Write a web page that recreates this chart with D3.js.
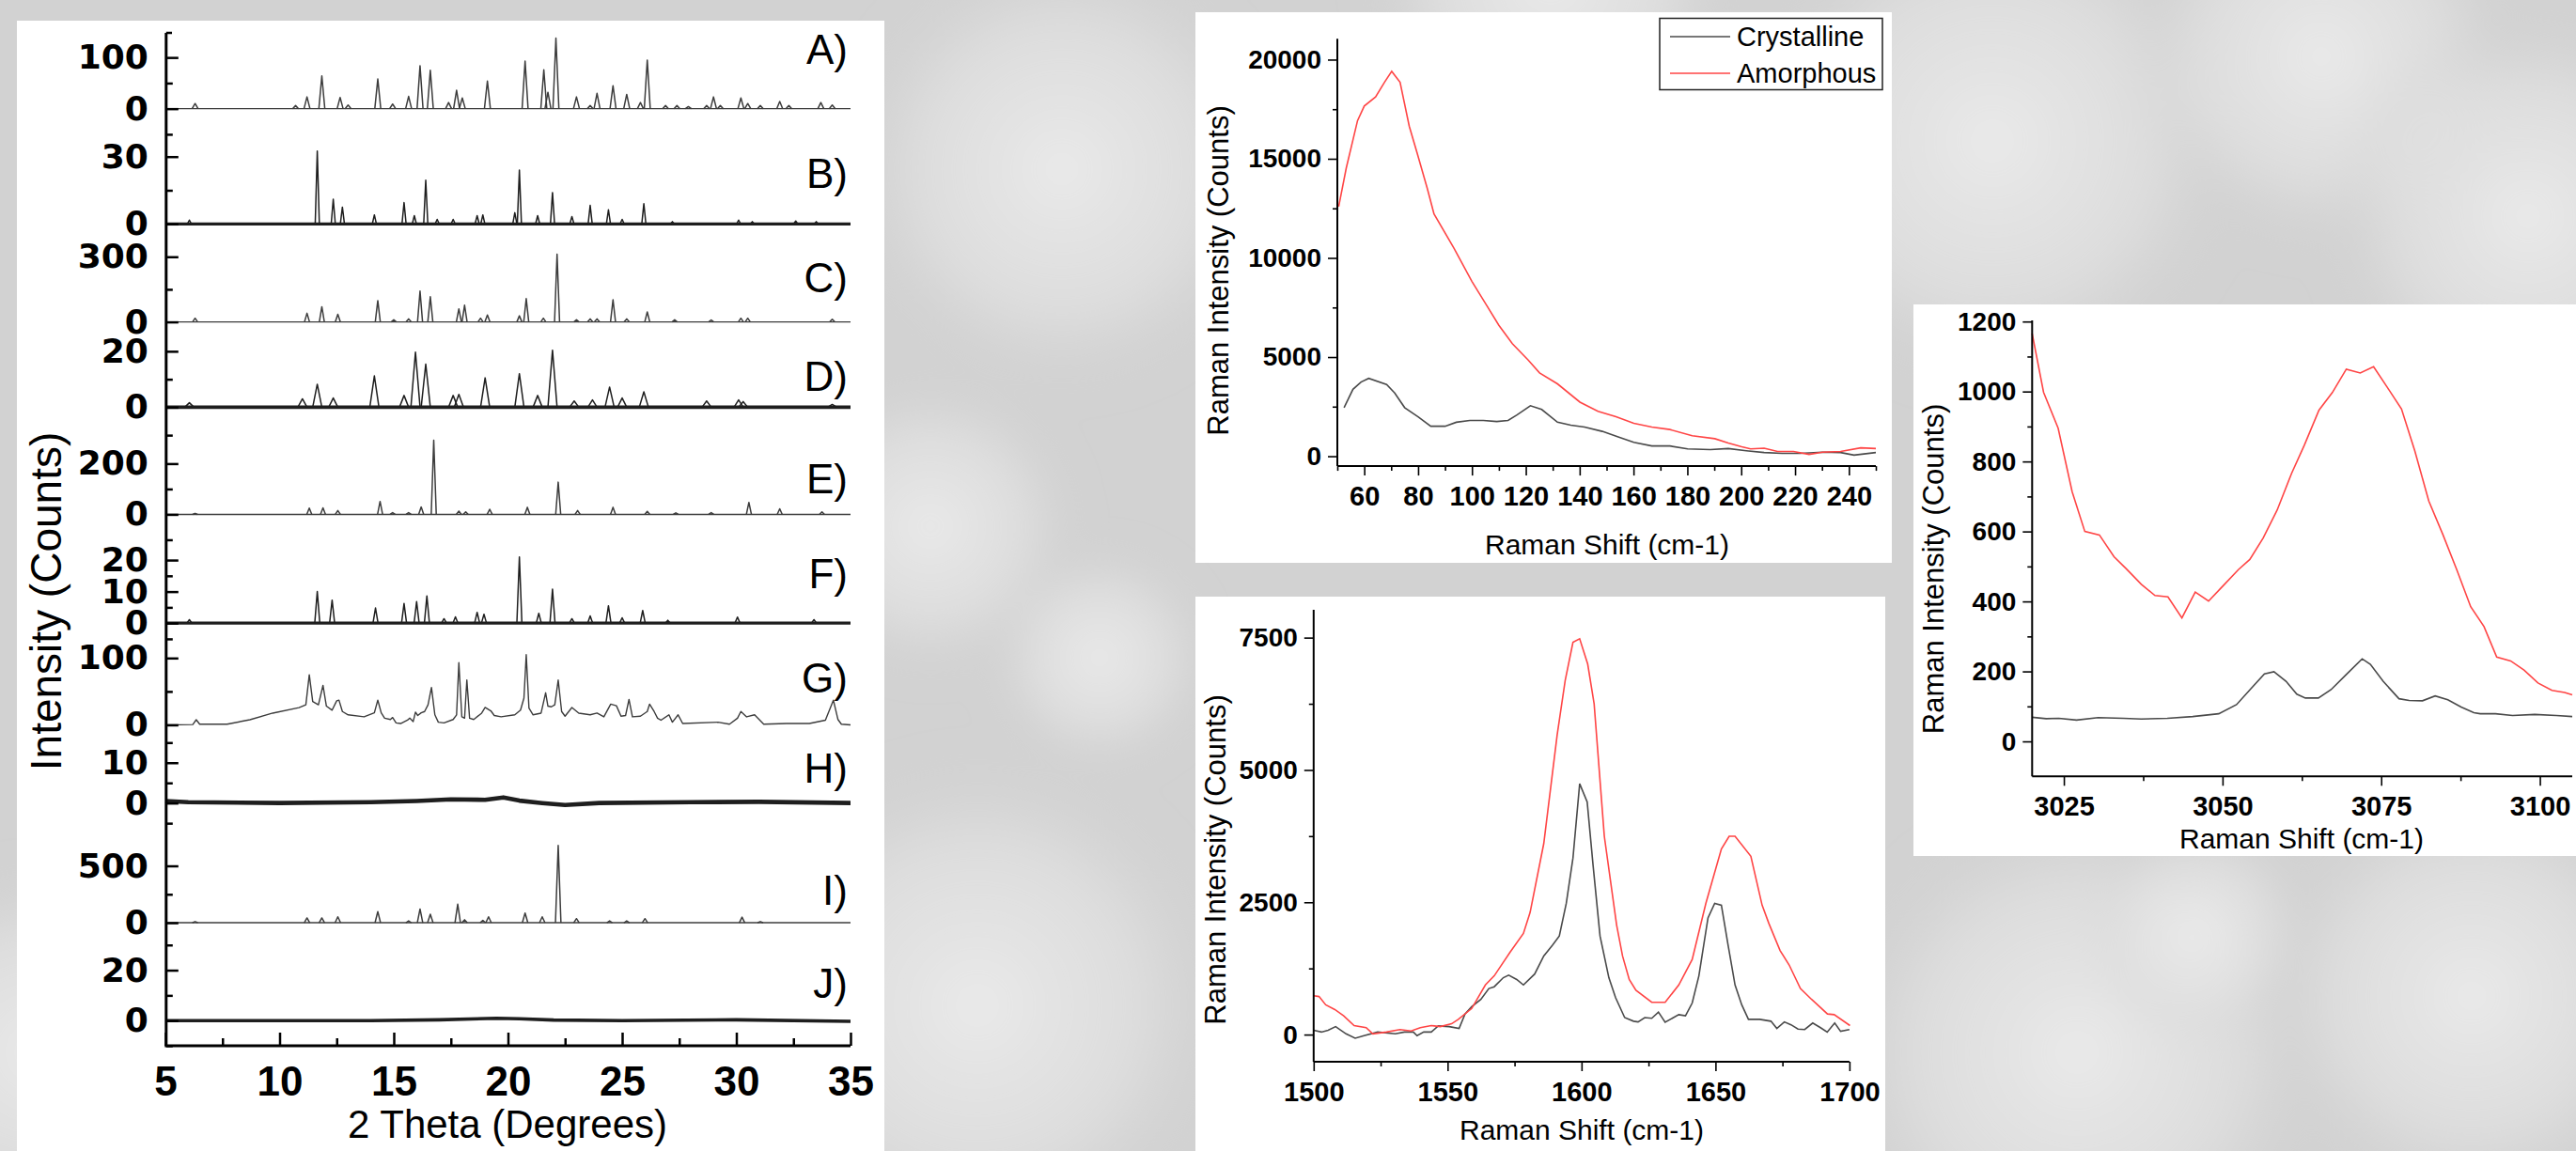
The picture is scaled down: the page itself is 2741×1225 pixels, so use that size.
<!DOCTYPE html>
<html>
<head>
<meta charset="utf-8">
<title>XRD patterns and Raman spectra</title>
<script src="https://cdn.jsdelivr.net/npm/d3@7"></script>
<style>
  body { margin: 0; background: #d6d6d6; }
  svg { display: block; }
</style>
</head>
<body>
<svg id="fig" width="2741" height="1225"></svg>
<script>
// ---------- XRD patterns (2 theta in degrees, intensity in counts) ----------
var xrdLabels = ['A)', 'B)', 'C)', 'D)', 'E)', 'F)', 'G)', 'H)', 'I)', 'J)'];
var xrdDomains = [[-63, 148], [-7, 37], [-58, 379], [-15, 26], [-139, 257],
                  [-8, 23.3], [-12, 114.5], [-9.4, 17.4], [-107, 719], [-10, 34]];
var xrdTicks = [[0, 100], [0, 30], [0, 300], [0, 20], [0, 200],
                [0, 10, 20], [0, 100], [0, 10], [0, 500], [0, 20]];
var xrdMinorStep = [50, 15, 150, 10, 100, 5, 50, 5, 250, 10];
var thetaTicks = [5, 10, 15, 20, 25, 30, 35];

// peaks as [2 theta, height]
var peaksA = [[6.3,10],[10.7,6],[11.2,23],[11.85,64],[12.65,22],[13.0,7],[14.3,58],[14.95,9],
  [15.65,24],[16.15,84],[16.6,75],[17.4,12],[17.75,36],[18.0,21],[19.1,54],[20.75,93],[21.57,76],
  [21.75,32],[22.1,138],[23.0,23],[23.6,6],[23.9,30],[24.6,45],[25.2,28],[25.8,12],[26.1,95],
  [26.9,6],[27.4,6],[27.9,4],[28.7,6],[29.0,23],[29.3,6],[30.2,21],[30.5,10],[31.05,6],[31.9,14],
  [32.3,6],[33.7,12],[34.2,7]];
var peaksB = [[6.05,1.7],[11.65,32.5],[12.35,11],[12.75,7.5],[14.15,4],[15.45,9.5],[15.9,3.7],
  [16.4,19.5],[16.9,2],[17.6,2],[18.65,3.7],[18.9,4],[20.3,5],[20.5,24],[21.3,3.7],[21.95,14],
  [22.8,3.3],[23.6,8.3],[24.4,6.3],[25.0,2],[25.95,9],[27.2,1],[30.1,1.7],[30.7,1],[32.6,1.3],[33.5,1]];
var peaksC = [[6.3,17],[11.2,40],[11.85,70],[12.55,35],[14.3,98],[15.0,10],[15.65,14],[16.15,142],
  [16.6,116],[17.85,60],[18.1,77],[18.8,17],[19.1,32],[20.5,28],[20.8,107],[21.55,17],[22.15,312],
  [23.0,10],[23.6,14],[23.9,14],[24.6,102],[25.2,14],[26.1,46],[27.3,10],[28.9,9],[30.2,17],
  [30.5,17],[34.2,12]];
var peaksD = [[6.05,1.6],[11.0,3],[11.65,8.2],[12.35,3.3],[14.15,11.2],[15.45,4.2],[15.95,19.7],
  [16.4,15.4],[17.6,4.2],[17.85,4.6],[19.0,10.5],[20.5,12],[21.3,4.2],[21.95,20.4],[22.9,2.2],
  [23.7,2.6],[24.45,7.2],[25.0,3.3],[25.95,5.5],[28.7,2.2],[30.1,2.6],[30.3,2],[34.2,1]];
var peaksE = [[6.3,4],[11.3,25],[11.9,26],[12.55,15],[14.4,51],[14.95,7],[15.65,7],[16.2,29],
  [16.75,292],[17.85,13],[18.15,10],[19.2,20],[20.85,28],[22.2,127],[23.05,15],[24.6,28],[26.1,12],
  [27.35,6],[28.9,7],[30.55,47],[31.9,22],[33.75,10]];
var peaksF = [[6.05,1.1],[11.65,10],[12.3,7.3],[14.2,4.8],[15.45,6.2],[16.0,6.8],[16.45,8.6],
  [17.2,1.4],[17.7,2],[18.65,3.4],[18.95,2.8],[20.5,21],[21.35,3.1],[21.95,10.8],[22.8,1.4],
  [23.6,2.3],[24.4,5.5],[25.0,1.7],[25.9,4],[27.0,0.9],[30.05,1.9],[33.4,1.1]];
var peaksI = [[6.3,10],[11.2,42],[11.85,42],[12.55,52],[14.3,98],[15.65,16],[16.15,121],[16.6,75],
  [17.8,163],[18.1,26],[18.9,20],[19.15,52],[20.75,85],[21.5,52],[22.2,680],[23.0,36],[24.45,16],
  [25.2,16],[26.0,36],[30.25,49],[31.05,10]];

// full traces as [2 theta, intensity]
var traceG = [[5,0],[6.2,0.5],[6.35,7.7],[6.5,1],[7.7,1],[8.7,7.7],[9.7,17.6],[10.85,25.8],[11.15,30],
  [11.3,75],[11.45,35],[11.7,30],[11.9,59],[12.05,28],[12.3,22],[12.5,36],[12.6,37],[12.75,20],
  [13.0,15],[13.7,12],[14.15,18],[14.3,37],[14.45,18],[14.6,10],[14.85,8],[14.95,11],[15.1,3],
  [15.3,2],[15.6,7],[15.7,10],[15.85,5],[15.95,19],[16.05,14],[16.2,18],[16.35,20],[16.5,30],
  [16.65,56],[16.8,15],[16.95,4],[17.2,3],[17.6,8],[17.75,15],[17.85,93],[17.98,12],[18.1,10],
  [18.2,67],[18.32,10],[18.5,8],[18.85,17.6],[19.0,26],[19.25,21],[19.4,14],[19.7,12],[20.3,15],
  [20.55,22],[20.7,40],[20.8,105],[20.92,25],[21.1,15],[21.45,17.6],[21.65,48],[21.75,28],[21.9,27],
  [22.05,30],[22.2,67],[22.35,20],[22.5,13],[22.8,26],[23.1,17.6],[23.6,15],[23.9,17.6],[24.2,12],
  [24.5,31],[24.75,28.6],[24.95,13],[25.15,14],[25.3,38],[25.45,12],[25.8,13],[26.1,20],[26.2,31],
  [26.4,20],[26.55,10],[26.7,7],[27.05,15],[27.2,4],[27.45,15],[27.65,2],[29.2,4],[29.7,1],
  [30.05,10],[30.2,20],[30.45,12],[30.8,15],[31.2,1],[32.2,2],[33.2,2],[33.9,7],[34.25,37],
  [34.45,8],[34.6,1],[35,0]];
var traceH = [[5,0.5],[6,0.2],[10,0],[14,0.2],[16,0.5],[17.5,0.9],[19,0.8],[19.8,1.4],[20.5,0.6],
  [21.5,0],[22.5,-0.5],[24,0],[28,0.2],[31,0.3],[35,0]];
var traceJ = [[5,0],[14,0],[17,0.3],[19.5,0.9],[20.5,0.7],[22,0.2],[25,0],[30,0.3],[35,-0.3]];

// ---------- Raman spectra, [shift (cm-1), intensity (counts)] ----------
var lowCryst = [[52.5,2452],[55.8,3373],[58.8,3742],[61.65,3926],[68.3,3613],[71.3,3189],[75,2452],
  [80,1991],[84.7,1512],[90,1512],[94.2,1714],[99.2,1806],[104.2,1806],[109.2,1751],[113.4,1806],
  [116.7,2083],[121.7,2544],[125.9,2359],[131.75,1714],[136.7,1567],[141.8,1475],[148.4,1253],
  [154.3,977],[160.1,700],[166.8,516],[173.5,516],[180.1,369],[188.5,332],[195.2,387],[201.9,276],
  [208.5,184],[215.2,147],[221.9,147],[230.2,203],[236.9,184],[241.9,55],[250,184]];
var lowAmor = [[50.5,12590],[53.3,14525],[57.5,16922],[60,17659],[64.2,18120],[67.5,18857],
  [70.2,19410],[73.3,18857],[76.7,16645],[79.7,15263],[83.4,13511],[85.9,12221],[93.4,10470],
  [100,8811],[105,7705],[110,6599],[115,5677],[120.9,4848],[125.1,4203],[131.75,3650],[140.1,2728],
  [146.8,2267],[153.5,1991],[160.1,1659],[166.8,1475],[173.5,1346],[181.8,1032],[190.2,885],
  [195.2,664],[200.2,479],[203.5,369],[208.5,406],[213.5,240],[219.4,240],[225.2,92],[230.2,203],
  [236.9,240],[244.4,424],[250,387]];
var midCryst = [[1500,82],[1502.9,48],[1505.4,82],[1508.2,151],[1512.1,14],[1515.5,-68],[1518.8,-21],
  [1523.9,48],[1530.5,14],[1533.9,48],[1537.2,48],[1538.6,-21],[1541.1,48],[1543.9,48],[1546.5,164],
  [1550.6,151],[1554.3,116],[1556.5,390],[1559,527],[1562.4,664],[1565.4,870],[1567.4,904],
  [1570.8,1075],[1572.8,1123],[1575.8,1041],[1578.3,938],[1582.5,1144],[1585.9,1486],[1589.2,1692],
  [1591.7,1863],[1594.3,2479],[1596.8,3336],[1599.3,4740],[1602.1,4397],[1604.3,3199],[1606.9,1863],
  [1610.2,1075],[1612.7,699],[1616.1,322],[1619.4,253],[1621.1,240],[1623.6,322],[1626.2,308],
  [1628.7,425],[1631.2,233],[1636.3,377],[1638.8,356],[1641.3,596],[1643.8,1110],[1647.2,2205],
  [1649.7,2479],[1652.2,2445],[1654.7,1692],[1657.3,938],[1659.8,562],[1662.3,288],[1666.5,288],
  [1670.7,253],[1672.9,116],[1675.7,240],[1678.2,185],[1680.8,103],[1683.3,96],[1686.3,219],
  [1689.2,130],[1691.7,48],[1694.5,219],[1696.7,62],[1700,96]];
var midAmor = [[1500,733],[1502,719],[1504.5,562],[1507.9,473],[1511.2,356],[1515.1,171],[1519.6,130],
  [1522.1,14],[1527.2,48],[1532.2,96],[1536.4,68],[1539.8,130],[1543.9,171],[1547.3,151],[1551.5,205],
  [1554,288],[1559,493],[1564.1,938],[1567.4,1110],[1573.3,1555],[1578.3,1911],[1580.8,2308],
  [1585.9,3610],[1590.9,5664],[1593.9,6692],[1596.8,7411],[1599.3,7479],[1602.3,7000],[1604.7,6247],
  [1608.5,3747],[1613.1,2068],[1615.3,1486],[1617.8,1041],[1620.3,836],[1626.2,610],[1631.2,610],
  [1636.3,938],[1641.3,1418],[1646.4,2479],[1652.2,3507],[1655.1,3747],[1657.3,3747],[1663.2,3370],
  [1667.4,2445],[1669.9,2103],[1674.1,1589],[1677.5,1315],[1681.7,870],[1685.9,664],[1691.8,390],
  [1694.3,377],[1700.2,171]];
var highCryst = [[3020,69],[3022.2,65],[3024.2,66],[3027,61],[3030.4,68],[3034.4,66],[3037.2,64],
  [3041.3,66],[3045.3,71],[3049.4,79],[3052.2,105],[3054.5,151],[3056.6,193],[3058.1,199],[3060,172],
  [3061.7,135],[3063.05,124],[3065.1,124],[3067.1,148],[3069.5,191],[3072,236],[3073.3,220],
  [3075.3,172],[3077.8,122],[3079.4,117],[3081.5,116],[3083.5,130],[3085.5,119],[3087.6,98],
  [3089.6,82],[3090.6,79],[3093,79],[3095.7,74],[3099.2,77],[3102.6,74],[3105.1,71]];
var highAmor = [[3020,1166],[3021.8,998],[3024.1,895],[3026.3,714],[3028.3,600],[3030.6,590],
  [3032.9,528],[3034.8,494],[3037.2,449],[3039.35,417],[3041.4,413],[3043.6,353],[3045.7,427],
  [3047.8,401],[3050.1,445],[3052.5,491],[3054.3,520],[3056.4,581],[3058.6,661],[3060.9,767],
  [3062.9,847],[3065.2,947],[3067.3,997],[3069.5,1064],[3071.7,1053],[3073.8,1071],[3076,1011],
  [3078.2,950],[3080.3,830],[3082.5,687],[3084.7,592],[3086.9,491],[3089.1,385],[3091.2,328],
  [3093.2,241],[3095.4,230],[3097.5,204],[3099.7,167],[3101.9,146],[3103.9,140],[3105.1,133]];
var seriesNames = ['Crystalline', 'Amorphous'];

// ---------- drawing ----------
var svg = d3.select('#fig');
var sans = 'Liberation Sans, Arial, sans-serif';
var redLine = '#ff4545', grayLine = '#4a4a4a';

// photographic backdrop (soft blurred spheres)
var defs = svg.append('defs');
var glow = defs.append('radialGradient').attr('id', 'glow');
glow.append('stop').attr('offset', '0%').attr('stop-color', '#ededed').attr('stop-opacity', 0.9);
glow.append('stop').attr('offset', '65%').attr('stop-color', '#e2e2e2').attr('stop-opacity', 0.65);
glow.append('stop').attr('offset', '100%').attr('stop-color', '#d0d0d0').attr('stop-opacity', 0);
defs.append('filter').attr('id', 'soft').append('feGaussianBlur').attr('stdDeviation', 18);
svg.append('rect').attr('width', 2741).attr('height', 1225).attr('fill', '#d2d2d2');
var blobs = svg.append('g').attr('filter', 'url(#soft)');
[[1130,180,240],[1040,1070,270],[990,560,160],[2120,150,270],[2470,60,210],[2690,230,220],
 [2210,1120,270],[2630,1060,230],[1170,700,120],[40,1120,200],[1700,1230,160],[2340,990,120],
 [1650,-20,200]].forEach(function(b) {
  blobs.append('circle').attr('cx', b[0]).attr('cy', b[1]).attr('r', b[2]).attr('fill', 'url(#glow)');
});

// white panels
[[18, 22, 923, 1203], [1272, 13, 741, 586], [1272, 635, 734, 590], [2036, 324, 705, 587]]
  .forEach(function(p) {
    svg.append('rect').attr('x', p[0]).attr('y', p[1]).attr('width', p[2]).attr('height', p[3])
      .attr('fill', '#fff');
  });

function cleanAxis(sel, w) {
  sel.select('.domain').remove();
  sel.selectAll('line').attr('stroke', '#000').attr('stroke-width', w);
  sel.selectAll('text').attr('fill', '#000');
}

// ---- stacked XRD panels ----
var xrd = svg.append('g');
var theta = d3.scaleLinear().domain([5, 35]).range([176, 905]);
var bands = [35, 150, 255, 356, 478, 585, 690, 780, 895, 995, 1113];
var labelMid = [52, 184, 295, 400, 509, 610, 721, 817, 947, 1046];
var halfWidth = [0.13, 0.09, 0.11, 0.2, 0.11, 0.11, 0, 0, 0.12, 0];
var noiseWidth = [0, 3.2, 0, 3.6, 0, 3.2, 0, 4.6, 0, 3.6];
var xrdPeaks = [peaksA, peaksB, peaksC, peaksD, peaksE, peaksF, null, null, peaksI, null];
var xrdTraces = [null, null, null, null, null, null, traceG, traceH, null, traceJ];

xrdLabels.forEach(function(lab, i) {
  var dom = xrdDomains[i];
  var y = d3.scaleLinear().domain(dom).range([bands[i + 1], bands[i]]);
  var line = d3.line().x(function(d) { return theta(d[0]); }).y(function(d) { return y(d[1]); });
  var g = xrd.append('g');
  var ink = noiseWidth[i] ? '#1e1e1e' : '#3c3c3c';

  var base = xrdTraces[i] || [[5, 0], [35, 0]];
  g.append('path')
    .attr('d', line(base))
    .attr('fill', 'none')
    .attr('stroke', ink)
    .attr('stroke-width', noiseWidth[i] || 1.4)
    .attr('stroke-linejoin', 'round');

  (xrdPeaks[i] || []).forEach(function(p) {
    var w = halfWidth[i];
    g.append('path')
      .attr('d', line([[p[0] - w, 0], [p[0], p[1]], [p[0] + w, 0]]))
      .attr('fill', 'none')
      .attr('stroke', ink)
      .attr('stroke-width', 1.5)
      .attr('stroke-linejoin', 'round');
  });

  // ticks point inward
  var step = xrdMinorStep[i];
  var minor = d3.range(Math.ceil(dom[0] / step) * step, dom[1], step)
    .filter(function(v) { return xrdTicks[i].indexOf(v) < 0; });
  g.append('g')
    .attr('transform', 'translate(176.8,0)')
    .call(d3.axisLeft(y).tickValues(minor).tickSize(-7).tickFormat(''))
    .call(cleanAxis, 2.5);
  g.append('g')
    .attr('transform', 'translate(176.8,0)')
    .call(d3.axisLeft(y).tickValues(xrdTicks[i]).tickSize(-13).tickPadding(19))
    .call(cleanAxis, 2.5)
    .selectAll('text')
      .attr('font-family', 'DejaVu Sans, sans-serif')
      .attr('font-weight', 'bold')
      .attr('font-size', 36);

  g.append('text')
    .attr('x', 902)
    .attr('y', labelMid[i])
    .attr('dy', '0.36em')
    .attr('text-anchor', 'end')
    .attr('font-family', sans)
    .attr('font-size', 44)
    .text(lab);
});

// shared axes
xrd.append('line').attr('x1', 176.8).attr('x2', 176.8).attr('y1', 35).attr('y2', 1113)
  .attr('stroke', '#000').attr('stroke-width', 3);
xrd.append('line').attr('x1', 176.8).attr('x2', 183).attr('y1', 35).attr('y2', 35)
  .attr('stroke', '#000').attr('stroke-width', 2.5);
xrd.append('g')
  .attr('transform', 'translate(0,1113)')
  .call(d3.axisTop(theta).tickValues(d3.range(7.5, 35, 5)).tickSize(8).tickFormat(''))
  .call(cleanAxis, 2.5);
xrd.append('g')
  .attr('transform', 'translate(0,1113)')
  .call(d3.axisBottom(theta).tickValues(thetaTicks).tickSize(-14).tickPadding(22))
  .call(cleanAxis, 2.5)
  .selectAll('text')
    .attr('font-family', sans).attr('font-weight', 'bold').attr('font-size', 44);
xrd.append('line').attr('x1', 175.3).attr('x2', 905).attr('y1', 1113).attr('y2', 1113)
  .attr('stroke', '#000').attr('stroke-width', 3);

xrd.append('text')
  .attr('x', 540).attr('y', 1211)
  .attr('text-anchor', 'middle')
  .attr('font-family', sans).attr('font-size', 42)
  .text('2 Theta (Degrees)');
xrd.append('text')
  .attr('transform', 'translate(49,640) rotate(-90)')
  .attr('dy', '0.35em')
  .attr('text-anchor', 'middle')
  .attr('font-family', sans).attr('font-size', 46)
  .text('Intensity (Counts)');

// ---- Raman panels ----
function raman(cfg) {
  var g = svg.append('g');
  var x = d3.scaleLinear().domain(cfg.xDomain).range(cfg.xRange);
  var y = d3.scaleLinear().domain(cfg.yDomain).range(cfg.yRange);
  var line = d3.line().x(function(d) { return x(d[0]); }).y(function(d) { return y(d[1]); });

  g.append('path').datum(cfg.cryst).attr('d', line)
    .attr('fill', 'none').attr('stroke', grayLine).attr('stroke-width', 1.6);
  g.append('path').datum(cfg.amor).attr('d', line)
    .attr('fill', 'none').attr('stroke', redLine).attr('stroke-width', 1.6);

  var x0 = cfg.xRange[0], y0 = cfg.yRange[0];
  g.append('g').attr('transform', 'translate(' + x0 + ',0)')
    .call(d3.axisLeft(y).tickValues(cfg.yMinor).tickSize(5).tickFormat(''))
    .call(cleanAxis, 1.6);
  g.append('g').attr('transform', 'translate(' + x0 + ',0)')
    .call(d3.axisLeft(y).tickValues(cfg.yMajor).tickSize(10).tickPadding(7).tickFormat(d3.format('d')))
    .call(cleanAxis, 1.6)
    .selectAll('text')
      .attr('font-family', sans).attr('font-weight', 'bold').attr('font-size', 28);
  g.append('g').attr('transform', 'translate(0,' + y0 + ')')
    .call(d3.axisBottom(x).tickValues(cfg.xMinor).tickSize(5).tickFormat(''))
    .call(cleanAxis, 1.6);
  g.append('g').attr('transform', 'translate(0,' + y0 + ')')
    .call(d3.axisBottom(x).tickValues(cfg.xMajor).tickSize(10).tickPadding(11).tickFormat(d3.format('d')))
    .call(cleanAxis, 1.6)
    .selectAll('text')
      .attr('font-family', sans).attr('font-weight', 'bold').attr('font-size', 29);

  g.append('line').attr('x1', x0).attr('x2', x0).attr('y1', cfg.yRange[0]).attr('y2', cfg.yRange[1])
    .attr('stroke', '#000').attr('stroke-width', 2);
  g.append('line').attr('x1', x0).attr('x2', cfg.xRange[1]).attr('y1', y0).attr('y2', y0)
    .attr('stroke', '#000').attr('stroke-width', 2);

  g.append('text')
    .attr('x', cfg.xTitle[0]).attr('y', cfg.xTitle[1])
    .attr('text-anchor', 'middle')
    .attr('font-family', sans).attr('font-size', 30)
    .text('Raman Shift (cm-1)');
  g.append('text')
    .attr('transform', 'translate(' + cfg.yTitle[0] + ',' + cfg.yTitle[1] + ') rotate(-90)')
    .attr('dy', '0.35em')
    .attr('text-anchor', 'middle')
    .attr('font-family', sans).attr('font-size', 31)
    .text('Raman Intensity (Counts)');
  return g;
}

var low = raman({
  xDomain: [50, 250], xRange: [1423, 1996],
  yDomain: [-500, 21050], yRange: [496.1, 41.3],
  xMajor: d3.range(60, 241, 20), xMinor: d3.range(50, 251, 20),
  yMajor: d3.range(0, 20001, 5000), yMinor: d3.range(2500, 20000, 5000),
  cryst: lowCryst, amor: lowAmor,
  xTitle: [1710, 590], yTitle: [1296.5, 288]
});
raman({
  xDomain: [1500, 1700], xRange: [1397.8, 1967.9],
  yDomain: [-513, 8026], yRange: [1130, 649],
  xMajor: d3.range(1500, 1701, 50), xMinor: d3.range(1525, 1700, 50),
  yMajor: d3.range(0, 7501, 2500), yMinor: d3.range(1250, 7500, 2500),
  cryst: midCryst, amor: midAmor,
  xTitle: [1683, 1213], yTitle: [1293.5, 915]
});
raman({
  xDomain: [3020, 3105.1], xRange: [2162.3, 2737],
  yDomain: [-100, 1203], yRange: [826.3, 341.1],
  xMajor: d3.range(3025, 3101, 25), xMinor: d3.range(3037.5, 3105, 25),
  yMajor: d3.range(0, 1201, 200), yMinor: d3.range(100, 1200, 200),
  cryst: highCryst, amor: highAmor,
  xTitle: [2449, 903], yTitle: [2057, 605.5]
});

// legend of the low-shift panel
var legend = low.append('g').attr('transform', 'translate(1766,19.5)');
legend.append('rect').attr('width', 237).attr('height', 76)
  .attr('fill', '#fff').attr('stroke', '#222').attr('stroke-width', 1.5);
[grayLine, redLine].forEach(function(c, i) {
  var yy = 19.5 + i * 39;
  legend.append('line').attr('x1', 11).attr('x2', 75).attr('y1', yy).attr('y2', yy)
    .attr('stroke', c).attr('stroke-width', 1.6);
  legend.append('text').attr('x', 82).attr('y', yy).attr('dy', '0.35em')
    .attr('font-family', sans).attr('font-size', 29).text(seriesNames[i]);
});
</script>
</body>
</html>
